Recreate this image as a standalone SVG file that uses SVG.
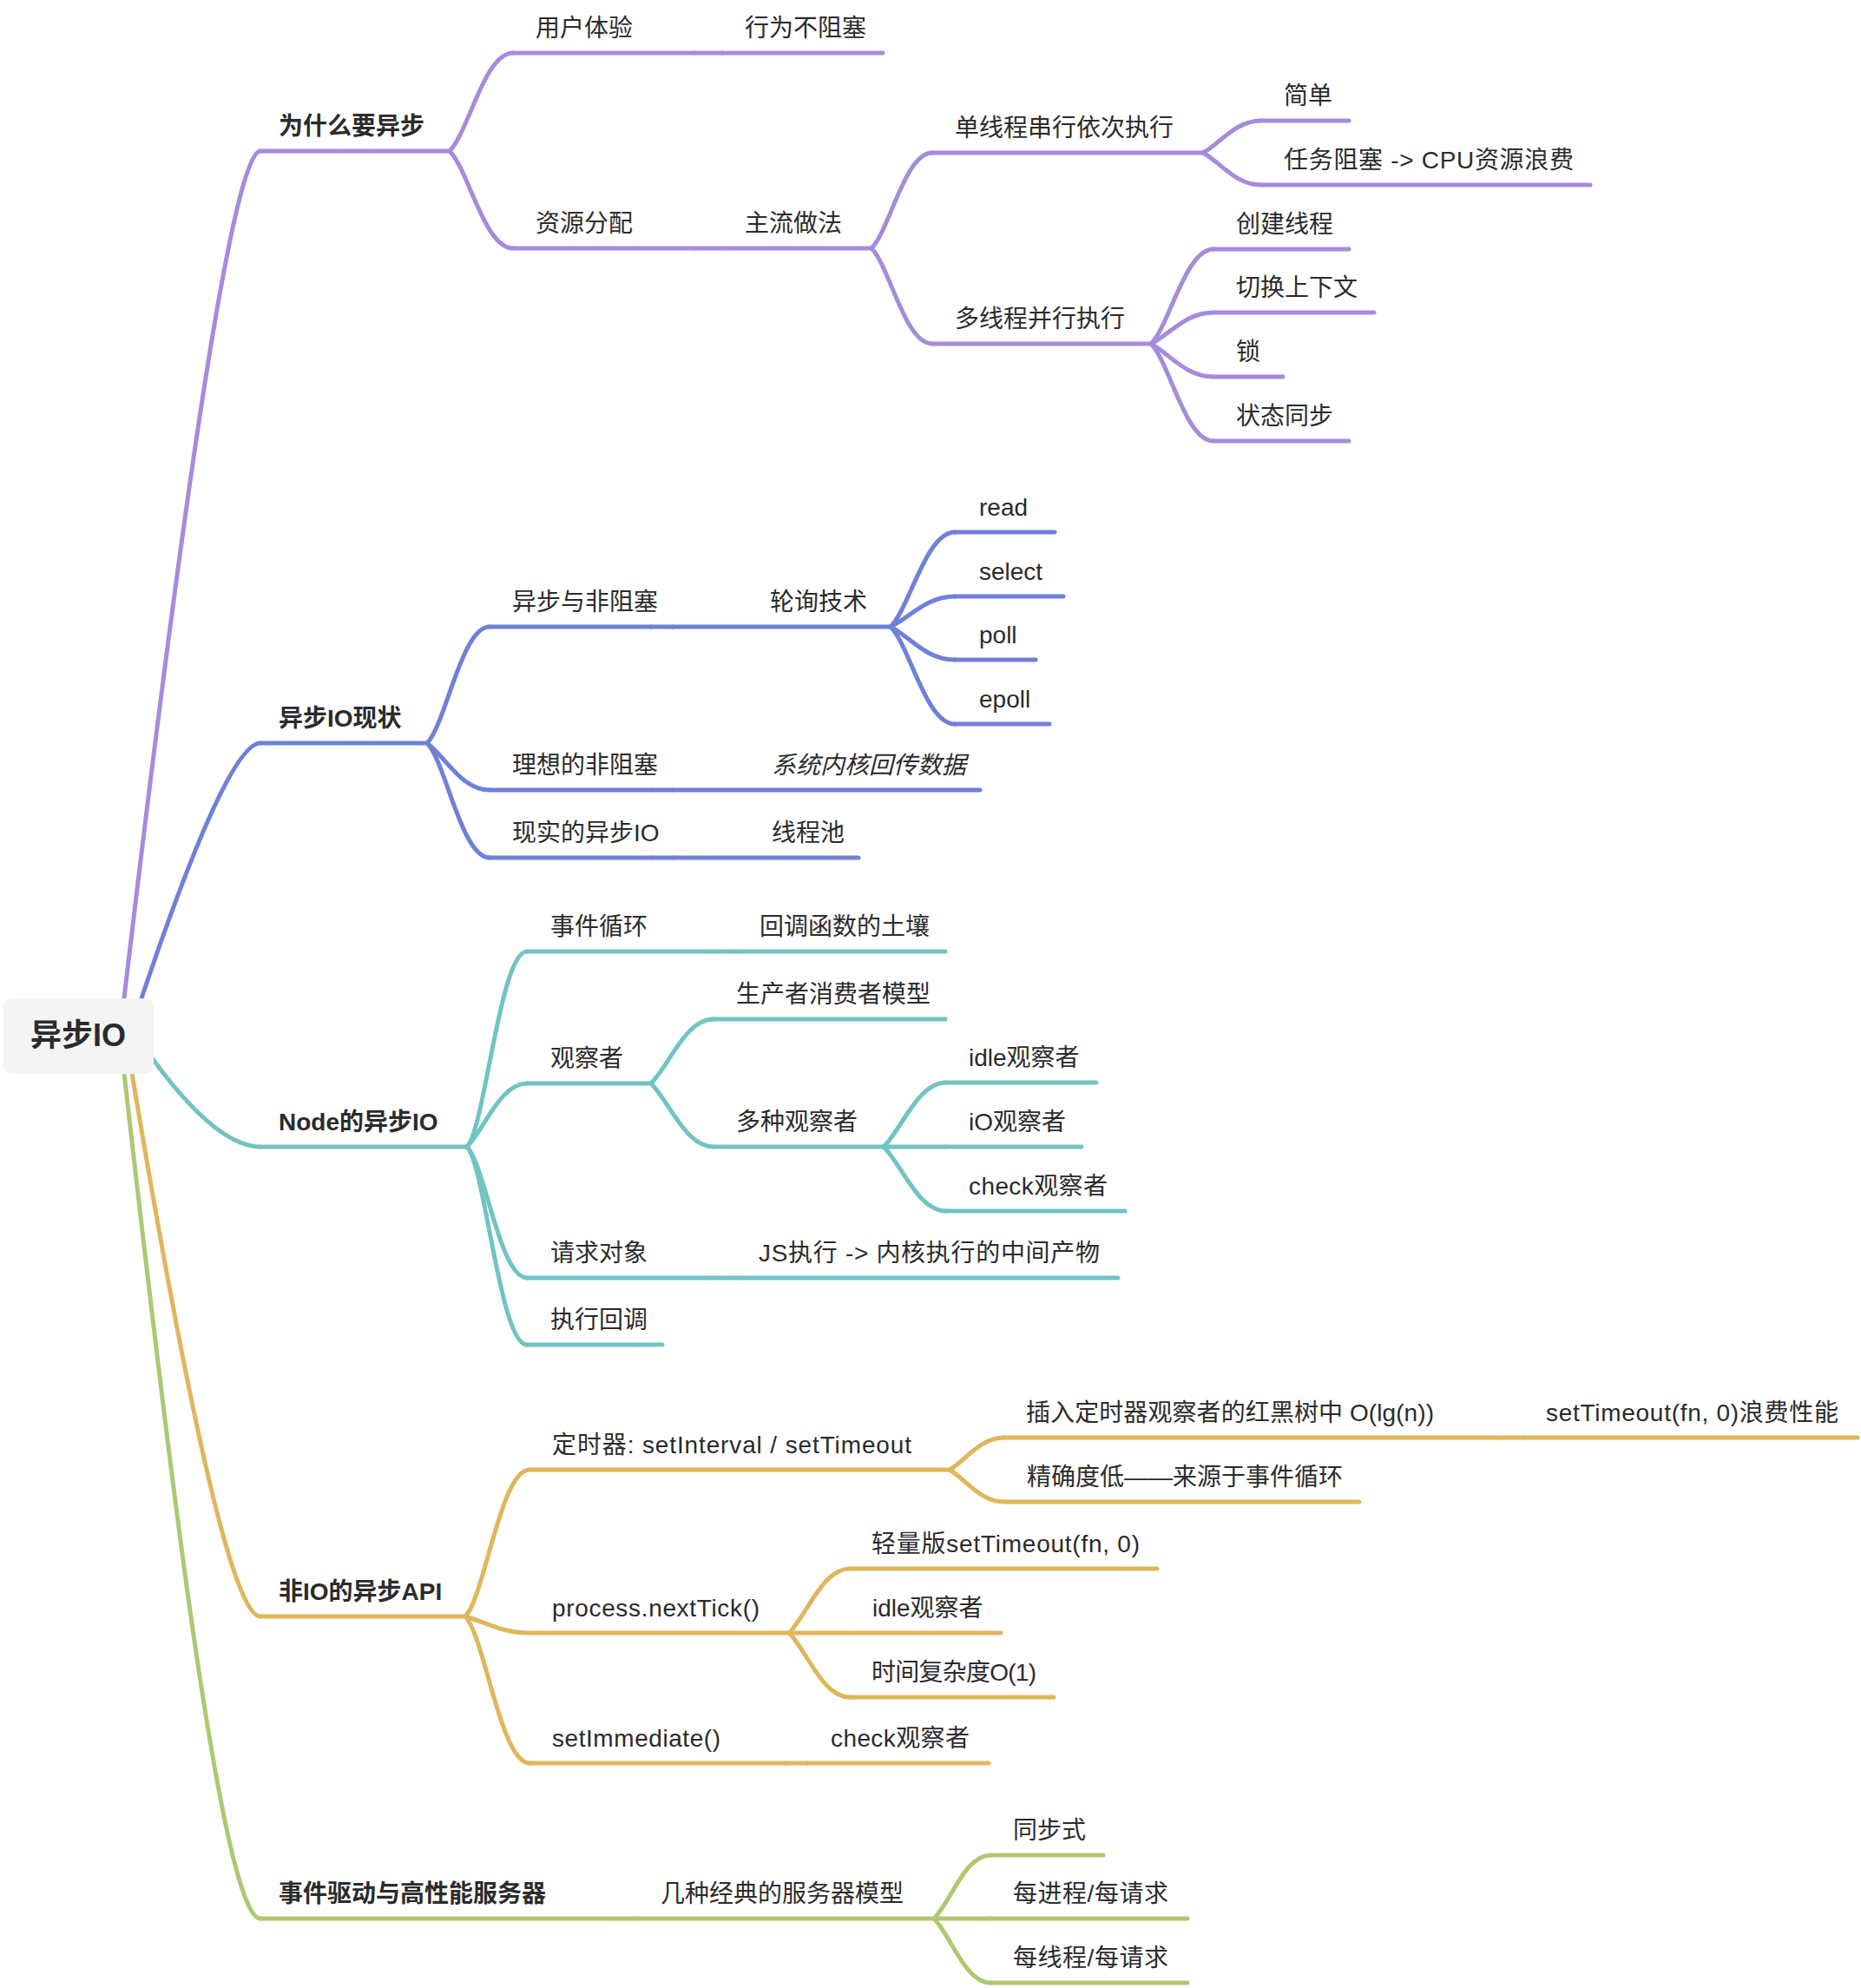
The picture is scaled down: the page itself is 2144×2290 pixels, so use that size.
<svg xmlns="http://www.w3.org/2000/svg" width="2144" height="2290" viewBox="0 0 2144 2290">
<style>
.t{font-family:"Liberation Sans","Noto Sans CJK SC",sans-serif;font-size:28px;fill:#2b2b2b}
.b{font-weight:600}
.r{font-size:36px;font-weight:bold}
.i{font-style:italic}
path{fill:none;stroke-width:5;stroke-linecap:round}
.p{stroke:#a68bdc}.bl{stroke:#6f80d9}.tl{stroke:#72c3c3}.g{stroke:#e0b65c}.gr{stroke:#aec872}
</style>
<rect width="2144" height="2290" fill="#ffffff"/>
<g id="connectors">
<path class="p" d="M143 1150 Q258 174 300 174"/>
<path class="bl" d="M163 1150 Q262 856 300 856"/>
<path class="tl" d="M176 1220 Q250 1321 300 1321"/>
<path class="g" d="M152 1236 Q256 1862 300 1862"/>
<path class="gr" d="M143 1236 C190 1650 255 2210 300 2210"/>
<path class="p" d="M518 174 C540 152 558 61 591 61"/>
<path class="p" d="M518 174 C540 196 558 286 591 286"/>
<path class="p" d="M800 61 L832 61"/>
<path class="p" d="M800 286 L832 286"/>
<path class="p" d="M1004 286 C1025 265 1042.5 176 1074 176"/>
<path class="p" d="M1004 286 C1025 307 1042.5 396 1074 396"/>
<path class="p" d="M1386 176 C1406 165 1423 139 1453 139"/>
<path class="p" d="M1386 176 C1406 187 1423 213 1453 213"/>
<path class="p" d="M1326 396 C1347.6 374.4 1365.6 287 1398 287"/>
<path class="p" d="M1326 396 C1347.6 385.2 1365.6 360 1398 360"/>
<path class="p" d="M1326 396 C1347.6 407.4 1365.6 434 1398 434"/>
<path class="p" d="M1326 396 C1347.6 417.6 1365.6 508 1398 508"/>
<path class="bl" d="M492 856 C513.6 834.4 531.6 722 564 722"/>
<path class="bl" d="M492 856 C513.6 872.2 531.6 910 564 910"/>
<path class="bl" d="M492 856 C513.6 877.6 531.6 988 564 988"/>
<path class="bl" d="M750 722 L775 722"/>
<path class="bl" d="M750 910 L775 910"/>
<path class="bl" d="M750 988 L775 988"/>
<path class="bl" d="M1026 722 C1048.2 699.8 1066.7 613 1100 613"/>
<path class="bl" d="M1026 722 C1048.2 711.5 1066.7 687 1100 687"/>
<path class="bl" d="M1026 722 C1048.2 733.4 1066.7 760 1100 760"/>
<path class="bl" d="M1026 722 C1048.2 744.2 1066.7 834 1100 834"/>
<path class="tl" d="M538 1321 C558.7 1300.3 576 1096 607 1096"/>
<path class="tl" d="M538 1321 C558.7 1300.3 576 1248 607 1248"/>
<path class="tl" d="M538 1321 C558.7 1341.7 576 1472 607 1472"/>
<path class="tl" d="M538 1321 C558.7 1341.7 576 1549 607 1549"/>
<path class="tl" d="M820 1096 L848 1096"/>
<path class="tl" d="M820 1472 L848 1472"/>
<path class="tl" d="M750 1248 C771.6 1226.4 789.6 1174 822 1174"/>
<path class="tl" d="M750 1248 C771.6 1269.6 789.6 1321 822 1321"/>
<path class="tl" d="M1018 1321 C1039.6 1299.4 1057.6 1247 1090 1247"/>
<path class="tl" d="M1018 1321 L1090 1321"/>
<path class="tl" d="M1018 1321 C1039.6 1342.6 1057.6 1395 1090 1395"/>
<path class="g" d="M536 1862 C558.2 1839.8 576.7 1693 610 1693"/>
<path class="g" d="M536 1862 C558.2 1867.7 576.7 1881 610 1881"/>
<path class="g" d="M536 1862 C558.2 1884.2 576.7 2031 610 2031"/>
<path class="g" d="M1094 1693 C1112.9 1681.9 1128.7 1656 1157 1656"/>
<path class="g" d="M1094 1693 C1112.9 1704.1 1128.7 1730 1157 1730"/>
<path class="g" d="M1730 1656 L1755 1656"/>
<path class="g" d="M909 1881 C930 1860 947.5 1807 979 1807"/>
<path class="g" d="M909 1881 L979 1881"/>
<path class="g" d="M909 1881 C930 1902 947.5 1955 979 1955"/>
<path class="g" d="M905 2031 L930 2031"/>
<path class="gr" d="M710 2210 L735 2210"/>
<path class="gr" d="M1076 2210 C1095.5 2190.5 1111.75 2137 1141 2137"/>
<path class="gr" d="M1076 2210 L1141 2210"/>
<path class="gr" d="M1076 2210 C1095.5 2229.5 1111.75 2284 1141 2284"/>
</g>
<g id="root"><rect x="4" y="1150" width="173" height="87" rx="10" fill="#f4f4f4"/><text class="t r" x="90" y="1205" text-anchor="middle">异步IO</text></g>
<g id="n1"><path class="p" d="M300 174 L518 174"/><text class="t b" x="321" y="155">为什么要异步</text></g>
<g id="n1a"><path class="p" d="M591 61 L800 61"/><text class="t" x="617" y="42">用户体验</text></g>
<g id="n1a1"><path class="p" d="M832 61 L1017 61"/><text class="t" x="858" y="42">行为不阻塞</text></g>
<g id="n1b"><path class="p" d="M591 286 L800 286"/><text class="t" x="617" y="267">资源分配</text></g>
<g id="n1b1"><path class="p" d="M832 286 L1004 286"/><text class="t" x="858" y="267">主流做法</text></g>
<g id="n1c"><path class="p" d="M1074 176 L1386 176"/><text class="t" x="1100" y="157">单线程串行依次执行</text></g>
<g id="n1c1"><path class="p" d="M1453 139 L1554 139"/><text class="t" x="1479" y="120">简单</text></g>
<g id="n1c2"><path class="p" d="M1453 213 L1832 213"/><text class="t" x="1479" y="194" textLength="334" lengthAdjust="spacing">任务阻塞 -&gt; CPU资源浪费</text></g>
<g id="n1d"><path class="p" d="M1074 396 L1326 396"/><text class="t" x="1100" y="377">多线程并行执行</text></g>
<g id="n1d1"><path class="p" d="M1398 287 L1554 287"/><text class="t" x="1424" y="268">创建线程</text></g>
<g id="n1d2"><path class="p" d="M1398 360 L1583 360"/><text class="t" x="1424" y="341">切换上下文</text></g>
<g id="n1d3"><path class="p" d="M1398 434 L1478 434"/><text class="t" x="1424" y="415">锁</text></g>
<g id="n1d4"><path class="p" d="M1398 508 L1554 508"/><text class="t" x="1424" y="489">状态同步</text></g>
<g id="n2"><path class="bl" d="M300 856 L492 856"/><text class="t b" x="321" y="837">异步IO现状</text></g>
<g id="n2a"><path class="bl" d="M564 722 L750 722"/><text class="t" x="590" y="703">异步与非阻塞</text></g>
<g id="n2a1"><path class="bl" d="M775 722 L1026 722"/><text class="t" x="887" y="703">轮询技术</text></g>
<g id="n2a1a"><path class="bl" d="M1100 613 L1215 613"/><text class="t" x="1128" y="594">read</text></g>
<g id="n2a1b"><path class="bl" d="M1100 687 L1225 687"/><text class="t" x="1128" y="668">select</text></g>
<g id="n2a1c"><path class="bl" d="M1100 760 L1193 760"/><text class="t" x="1128" y="741">poll</text></g>
<g id="n2a1d"><path class="bl" d="M1100 834 L1209 834"/><text class="t" x="1128" y="815">epoll</text></g>
<g id="n2b"><path class="bl" d="M564 910 L750 910"/><text class="t" x="590" y="891">理想的非阻塞</text></g>
<g id="n2b1"><path class="bl" d="M775 910 L1129 910"/><text class="t i" x="889" y="891">系统内核回传数据</text></g>
<g id="n2c"><path class="bl" d="M564 988 L750 988"/><text class="t" x="590" y="969">现实的异步IO</text></g>
<g id="n2c1"><path class="bl" d="M775 988 L989 988"/><text class="t" x="889" y="969">线程池</text></g>
<g id="n3"><path class="tl" d="M300 1321 L538 1321"/><text class="t b" x="321" y="1302">Node的异步IO</text></g>
<g id="n3a"><path class="tl" d="M607 1096 L820 1096"/><text class="t" x="634" y="1077">事件循环</text></g>
<g id="n3a1"><path class="tl" d="M848 1096 L1089 1096"/><text class="t" x="875" y="1077">回调函数的土壤</text></g>
<g id="n3b"><path class="tl" d="M607 1248 L750 1248"/><text class="t" x="634" y="1229">观察者</text></g>
<g id="n3b1"><path class="tl" d="M822 1174 L1089 1174"/><text class="t" x="848" y="1155">生产者消费者模型</text></g>
<g id="n3b2"><path class="tl" d="M822 1321 L1018 1321"/><text class="t" x="848" y="1302">多种观察者</text></g>
<g id="n3b2a"><path class="tl" d="M1090 1247 L1263 1247"/><text class="t" x="1116" y="1228">idle观察者</text></g>
<g id="n3b2b"><path class="tl" d="M1090 1321 L1246 1321"/><text class="t" x="1116" y="1302">iO观察者</text></g>
<g id="n3b2c"><path class="tl" d="M1090 1395 L1296 1395"/><text class="t" x="1116" y="1376" textLength="160" lengthAdjust="spacing">check观察者</text></g>
<g id="n3c"><path class="tl" d="M607 1472 L820 1472"/><text class="t" x="634" y="1453">请求对象</text></g>
<g id="n3c1"><path class="tl" d="M848 1472 L1288 1472"/><text class="t" x="874" y="1453" textLength="393" lengthAdjust="spacing">JS执行 -&gt; 内核执行的中间产物</text></g>
<g id="n3d"><path class="tl" d="M607 1549 L763 1549"/><text class="t" x="634" y="1530">执行回调</text></g>
<g id="n4"><path class="g" d="M300 1862 L536 1862"/><text class="t b" x="321" y="1843">非IO的异步API</text></g>
<g id="n4a"><path class="g" d="M610 1693 L1094 1693"/><text class="t" x="636" y="1674" textLength="414" lengthAdjust="spacing">定时器: setInterval / setTimeout</text></g>
<g id="n4a1"><path class="g" d="M1157 1656 L1730 1656"/><text class="t" x="1182" y="1637" textLength="470" lengthAdjust="spacing">插入定时器观察者的红黑树中 O(lg(n))</text></g>
<g id="n4a1a"><path class="g" d="M1755 1656 L2140 1656"/><text class="t" x="1781" y="1637" textLength="337" lengthAdjust="spacing">setTimeout(fn, 0)浪费性能</text></g>
<g id="n4a2"><path class="g" d="M1157 1730 L1566 1730"/><text class="t" x="1183" y="1711">精确度低——来源于事件循环</text></g>
<g id="n4b"><path class="g" d="M610 1881 L909 1881"/><text class="t" x="636" y="1862" textLength="239" lengthAdjust="spacing">process.nextTick()</text></g>
<g id="n4b1"><path class="g" d="M979 1807 L1333 1807"/><text class="t" x="1004" y="1788" textLength="309" lengthAdjust="spacing">轻量版setTimeout(fn, 0)</text></g>
<g id="n4b2"><path class="g" d="M979 1881 L1153 1881"/><text class="t" x="1005" y="1862">idle观察者</text></g>
<g id="n4b3"><path class="g" d="M979 1955 L1214 1955"/><text class="t" x="1004" y="1936" textLength="190" lengthAdjust="spacing">时间复杂度O(1)</text></g>
<g id="n4c"><path class="g" d="M610 2031 L905 2031"/><text class="t" x="636" y="2012" textLength="194" lengthAdjust="spacing">setImmediate()</text></g>
<g id="n4c1"><path class="g" d="M930 2031 L1139 2031"/><text class="t" x="957" y="2012" textLength="160" lengthAdjust="spacing">check观察者</text></g>
<g id="n5"><path class="gr" d="M300 2210 L710 2210"/><text class="t b" x="321" y="2191">事件驱动与高性能服务器</text></g>
<g id="n5a"><path class="gr" d="M735 2210 L1076 2210"/><text class="t" x="761" y="2191">几种经典的服务器模型</text></g>
<g id="n5a1"><path class="gr" d="M1141 2137 L1271 2137"/><text class="t" x="1167" y="2118">同步式</text></g>
<g id="n5a2"><path class="gr" d="M1141 2210 L1368 2210"/><text class="t" x="1167" y="2191" textLength="179" lengthAdjust="spacing">每进程/每请求</text></g>
<g id="n5a3"><path class="gr" d="M1141 2284 L1368 2284"/><text class="t" x="1167" y="2265" textLength="179" lengthAdjust="spacing">每线程/每请求</text></g>
</svg>
